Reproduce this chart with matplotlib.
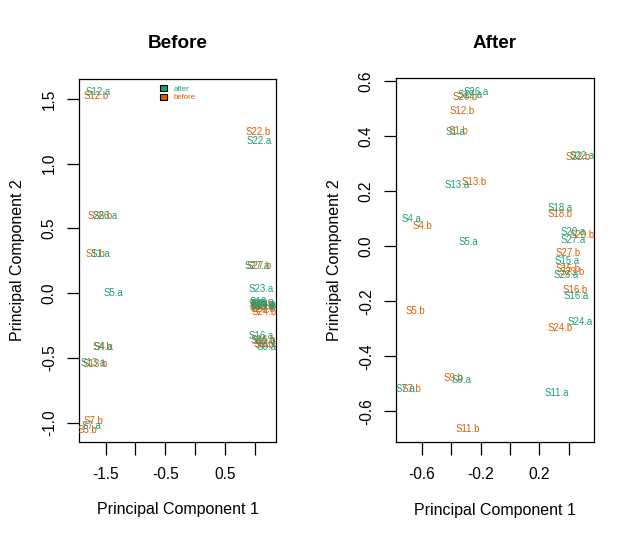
import matplotlib
matplotlib.use("Agg")
import matplotlib.pyplot as plt
from matplotlib.patches import Patch

plt.rcParams['font.family'] = ['Liberation Sans', 'DejaVu Sans']

green = '#1B9E77'
orange = '#D95F02'

samples = ["S1", "S4", "S5", "S7", "S9", "S11", "S12", "S13", "S15",
           "S16", "S18", "S20", "S22", "S23", "S24", "S26", "S27"]

# before correction, ".a" = after run, ".b" = before run
before_pc1_a = [-1.583, -1.535, -1.367, -1.727, 1.19, 1.15, -1.617, -1.70, 1.14,
                1.107, 1.12, 1.13, 1.062, 1.107, 1.15, -1.508, 1.04]
before_pc2_a = [0.304, -0.415, 0.0, -1.023, -0.417, -0.37, 1.553, -0.541, -0.10,
                -0.33, -0.07, -0.085, 1.172, 0.033, -0.09, 0.597, 0.208]
before_pc1_b = [-1.675, -1.55, -1.80, -1.71, 1.16, 1.17, -1.660, -1.67, 1.12,
                1.13, 1.10, 1.11, 1.050, 1.13, 1.15, -1.592, 1.06]
before_pc2_b = [0.304, -0.418, -1.056, -0.987, -0.40, -0.39, 1.525, -0.545, -0.11,
                -0.36, -0.08, -0.10, 1.249, -0.12, -0.142, 0.597, 0.208]

after_pc1_a = [-0.369, -0.669, -0.283, -0.714, -0.329, 0.318, -0.272, -0.362, 0.385,
               0.449, 0.340, 0.431, 0.488, 0.385, 0.476, -0.227, 0.431]
after_pc2_a = [0.416, 0.098, 0.015, -0.520, -0.486, -0.532, 0.551, 0.223, -0.054,
               -0.180, 0.138, 0.051, 0.329, -0.104, -0.274, 0.562, 0.023]
after_pc1_b = [-0.352, -0.597, -0.641, -0.669, -0.386, -0.290, -0.328, -0.243, 0.397,
               0.442, 0.340, 0.488, 0.465, 0.420, 0.340, -0.306, 0.397]
after_pc2_b = [0.420, 0.075, -0.234, -0.520, -0.480, -0.665, 0.492, 0.233, -0.083,
               -0.159, 0.116, 0.041, 0.324, -0.093, -0.296, 0.542, -0.025]

fig = plt.figure(figsize=(6.35, 5.4), dpi=100)
ax1 = fig.add_axes([0.1244, 0.182, 0.311, 0.672])
ax2 = fig.add_axes([0.6236, 0.182, 0.3118, 0.673])


def label_points(ax, xa, ya, xb, yb):
    for name, x, y in zip(samples, xb, yb):
        ax.text(x, y, name + ".b", color=orange, fontsize=6.9,
                ha='center', va='center', clip_on=True)
    for name, x, y in zip(samples, xa, ya):
        ax.text(x, y, name + ".a", color=green, fontsize=6.9,
                ha='center', va='center', clip_on=True)


def style_axis(ax, title):
    ax.set_title(title, fontsize=13.6, fontweight='bold', pad=22)
    ax.set_xlabel("Principal Component 1", fontsize=11.5, va='center')
    ax.set_ylabel("Principal Component 2", fontsize=11.5, va='center')
    ax.xaxis.set_label_coords(0.5, -0.188)
    ax.yaxis.set_label_coords(-0.309, 0.5)
    ax.tick_params(length=9, width=0.9, labelsize=11.2)
    ax.tick_params(axis='x', pad=9)
    ax.tick_params(axis='y', pad=7)
    for lab in ax.get_yticklabels():
        lab.set_rotation(90)
        lab.set_va('center')
    for s in ax.spines.values():
        s.set_linewidth(0.9)


label_points(ax1, before_pc1_a, before_pc2_a, before_pc1_b, before_pc2_b)
ax1.set_xlim(-1.943, 1.357)
ax1.set_ylim(-1.147, 1.656)
ax1.set_xticks([-1.5, -1.0, -0.5, 0.0, 0.5, 1.0])
ax1.set_xticklabels(['-1.5', '', '-0.5', '', '0.5', ''])
ax1.set_yticks([-1.0, -0.5, 0.0, 0.5, 1.0, 1.5])
ax1.set_yticklabels(['-1.0', '-0.5', '0.0', '0.5', '1.0', '1.5'])
style_axis(ax1, "Before")

handles = [Patch(facecolor=green, edgecolor='black', linewidth=0.8, label='after'),
           Patch(facecolor=orange, edgecolor='black', linewidth=0.8, label='before')]
ax1.legend(handles=handles, loc='upper center', bbox_to_anchor=(0.50, 0.995),
           frameon=False, fontsize=5.6, handlelength=0.9, handleheight=0.8,
           handletextpad=0.9, labelspacing=0.1, borderpad=0.1,
           labelcolor=[green, orange])

label_points(ax2, after_pc1_a, after_pc2_a, after_pc1_b, after_pc2_b)
ax2.set_xlim(-0.776, 0.571)
ax2.set_ylim(-0.711, 0.611)
ax2.set_xticks([-0.6, -0.4, -0.2, 0.0, 0.2, 0.4])
ax2.set_xticklabels(['-0.6', '', '-0.2', '', '0.2', ''])
ax2.set_yticks([-0.6, -0.4, -0.2, 0.0, 0.2, 0.4, 0.6])
ax2.set_yticklabels(['-0.6', '-0.4', '-0.2', '0.0', '0.2', '0.4', '0.6'])
style_axis(ax2, "After")

fig.savefig("out.png", dpi=100)
